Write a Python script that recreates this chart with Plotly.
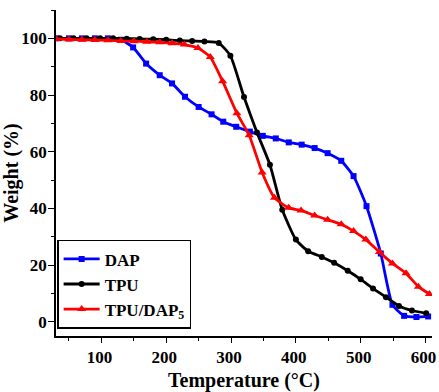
import plotly.graph_objects as go

# ---- data ----
dap_t = [30, 50, 70, 90, 110, 130, 149, 169, 190, 209, 229, 250, 270, 288, 308, 329, 349,
         369, 389, 409, 429, 449, 470, 489, 509, 531, 549, 567, 586, 604]
dap_w = [100, 100, 100, 100, 100, 99.5, 96.8, 91.1, 87, 84.1, 79.4, 75.8, 73.2, 70.6, 68.8,
         67.1, 65.6, 64.7, 63.3, 62.5, 61.3, 59.5, 56.8, 51.4, 40.8, 24.1, 6, 2.1, 1.7, 1.9]

tpu_t = [36, 57, 77, 98, 118, 139, 159, 180, 200, 221, 240, 259, 281, 299, 320, 340, 360,
         379, 400, 419, 440, 459, 480, 500, 519, 539, 559, 579, 601]
tpu_w = [100, 100, 100, 100, 100, 99.9, 99.8, 99.7, 99.5, 99.2, 99.1, 98.9, 98.4, 93.9,
         79.3, 66.8, 55.4, 39.5, 29, 24.9, 22.9, 20.8, 18, 15, 11.8, 8.7, 5.6, 4, 3.0]

mix_t = [30, 50, 70, 90, 110, 130, 150, 170, 190, 209, 228, 249, 268, 287, 309, 328, 348,
         367, 389, 408, 429, 449, 470, 489, 508, 529, 549, 570, 589, 606]
mix_w = [99.8, 99.6, 99.5, 99.4, 99.3, 99.1, 99, 98.8, 98.6, 98.3, 97.8, 96.6, 93.4, 84.9,
         73.6, 65.8, 52.7, 43.8, 40.2, 39.3, 37.5, 36, 34.4, 32, 29, 24.6, 20.6, 17.1, 12.4, 9.8]

series_names = ["DAP", "TPU", "TPU/DAP<sub>5</sub>"]
x_ticks = [100, 200, 300, 400, 500, 600]
y_ticks = [0, 20, 40, 60, 80, 100]

FONT = "Liberation Serif"

fig = go.Figure()
styles = [
    (dap_t, dap_w, "#0000ff", "square", 6),
    (tpu_t, tpu_w, "#000000", "circle", 6),
    (mix_t, mix_w, "#ff0000", "triangle-up", 8),
]
for (t, w, c, sym, ms), name in zip(styles, series_names):
    fig.add_trace(go.Scatter(
        x=t, y=w, name=name, mode="lines+markers",
        line=dict(color=c, width=2.8, shape="spline", smoothing=0.5),
        marker=dict(symbol=sym, size=ms, color=c),
    ))

axis_common = dict(
    showline=True, linecolor="black", linewidth=1.6, mirror=False,
    ticks="outside", tickwidth=1.2, tickcolor="black",
    showgrid=False, zeroline=False, automargin=False,
    tickfont=dict(family=FONT, size=17, color="black", weight="bold"),
)

fig.update_xaxes(
    range=[30, 610], tickvals=x_ticks, ticklen=5, ticklabelshift=-2,
    ticklabeloverflow="allow",
    minor=dict(ticks="outside", ticklen=3, tickwidth=1.2, tickcolor="black", dtick=50, tick0=0),
    title=dict(text="Temperature (°C)", font=dict(family=FONT, size=20, color="black", weight="bold")),
    **axis_common,
)
fig.update_yaxes(
    range=[-5, 110], tickvals=y_ticks, ticklen=6, ticklabelstandoff=-2,
    ticklabeloverflow="allow",
    minor=dict(ticks="outside", ticklen=3.5, tickwidth=1.2, tickcolor="black", dtick=10, tick0=0),
    title=dict(text="Weight (%)", font=dict(family=FONT, size=20, color="black", weight="bold")),
    **axis_common,
)

fig.update_layout(
    width=439, height=392,
    margin=dict(l=56, r=7, t=10, b=56),
    plot_bgcolor="white", paper_bgcolor="white",
    showlegend=True,
    legend=dict(
        x=0.003, y=0.022, xanchor="left", yanchor="bottom",
        bordercolor="black", borderwidth=1.5, bgcolor="white",
        font=dict(family=FONT, size=17, color="black", weight="bold"),
        itemwidth=36, tracegroupgap=0,
    ),
)

post = "document.body.style.margin='0';document.body.style.overflow='hidden';"
fig.write_html("out.html", config={"displayModeBar": False}, post_script=post)
